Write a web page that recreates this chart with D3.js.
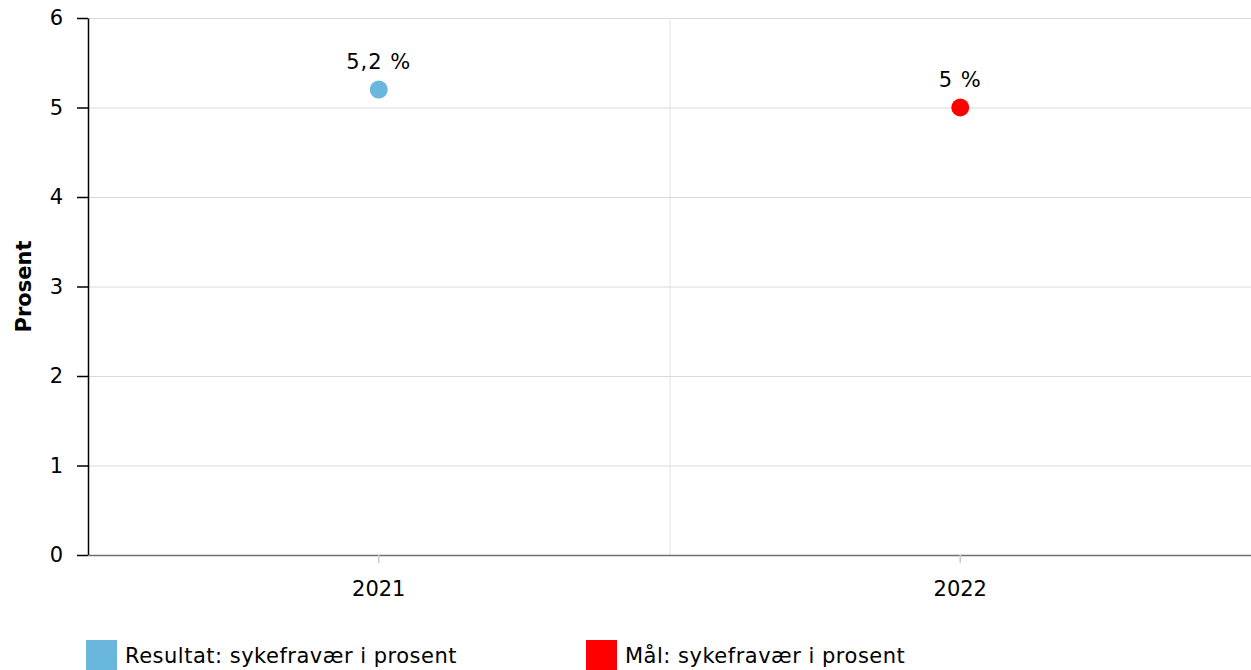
<!DOCTYPE html>
<html><head><meta charset="utf-8">
<script src="https://cdn.jsdelivr.net/npm/d3@7"></script>
<style>body{margin:0;background:#fff;} svg{display:block;font-family:"DejaVu Sans",Verdana,sans-serif;}</style>
</head><body>
<svg id="c" width="1251" height="670"></svg>
<script>
const categories = ["2021", "2022"];
const seriesNames = ["Resultat: sykefravær i prosent", "Mål: sykefravær i prosent"];
const seriesValues = [5.2, 5];
const seriesLabels = ["5,2 %", "5 %"];
const seriesColors = ["#69b7dc", "#ff0000"];
const yTicks = [0, 1, 2, 3, 4, 5, 6];

const FS = 21;
const svg = d3.select("#c");
const m = {l: 88, r: 0, t: 18, b: 115};
const W = 1251, H = 670;
const x = d3.scaleBand().domain(categories).range([m.l, W - m.r]);
const y = d3.scaleLinear().domain([0, 6]).range([H - m.b, m.t]);

// horizontal grid
svg.append("g").selectAll("line").data(yTicks.filter(d => d > 0)).join("line")
  .attr("x1", m.l).attr("x2", W).attr("y1", d => y(d) + 0.5).attr("y2", d => y(d) + 0.5)
  .attr("stroke", "#d9d9d9").attr("stroke-width", 1);
// vertical grid between categories
svg.append("g").selectAll("line").data(categories.slice(1)).join("line")
  .attr("x1", d => x(d) + 0.5).attr("x2", d => x(d) + 0.5).attr("y1", m.t).attr("y2", y(0))
  .attr("stroke", "#e3e3e3").attr("stroke-width", 1);

// y axis
const ya = svg.append("g").attr("transform", `translate(${m.l},0)`)
  .call(d3.axisLeft(y).tickValues(yTicks).tickFormat(d3.format("d")).tickSize(11).tickPadding(14).tickSizeOuter(0));
ya.attr("font-size", FS).attr("font-family", "DejaVu Sans");
ya.select(".domain").attr("stroke", "#000").attr("stroke-width", 1.5);
ya.selectAll(".tick line").attr("stroke", "#000").attr("stroke-width", 1.5);
ya.selectAll("text").attr("fill", "#000");

// x axis
const xa = svg.append("g").attr("transform", `translate(0,${y(0)})`)
  .call(d3.axisBottom(x).tickSize(8).tickPadding(18).tickSizeOuter(0));
xa.attr("font-size", FS).attr("font-family", "DejaVu Sans");
xa.select(".domain").attr("stroke", "#707070").attr("stroke-width", 1.5);
xa.selectAll(".tick line").attr("stroke", "#c8c8c8").attr("stroke-width", 1.5);
xa.selectAll("text").attr("fill", "#000");

// y title
svg.append("text").attr("transform", `translate(31,${(y(0) + y(6)) / 2}) rotate(-90)`)
  .attr("text-anchor", "middle").attr("font-weight", "bold").attr("font-size", FS).text("Prosent");

// points
const pts = categories.map((c, i) => ({c, v: seriesValues[i], col: seriesColors[i], lab: seriesLabels[i]}));
svg.append("g").selectAll("circle").data(pts).join("circle")
  .attr("cx", d => x(d.c) + x.bandwidth() / 2).attr("cy", d => y(d.v)).attr("r", 9)
  .attr("fill", d => d.col);
svg.append("g").selectAll("text").data(pts).join("text")
  .attr("x", d => x(d.c) + x.bandwidth() / 2).attr("y", d => y(d.v) - 21)
  .attr("text-anchor", "middle").attr("font-size", FS).attr("letter-spacing", 1).attr("fill", "#000").text(d => d.lab);

// legend
const lg = svg.append("g").selectAll("g").data(seriesNames).join("g")
  .attr("transform", (d, i) => `translate(${86 + i * 500},640)`);
lg.append("rect").attr("width", 31).attr("height", 31).attr("fill", (d, i) => seriesColors[i]);
lg.append("text").attr("x", 39).attr("y", 23).attr("font-size", FS).attr("letter-spacing", 0.5).attr("fill", "#000").text(d => d);
</script>
</body></html>
